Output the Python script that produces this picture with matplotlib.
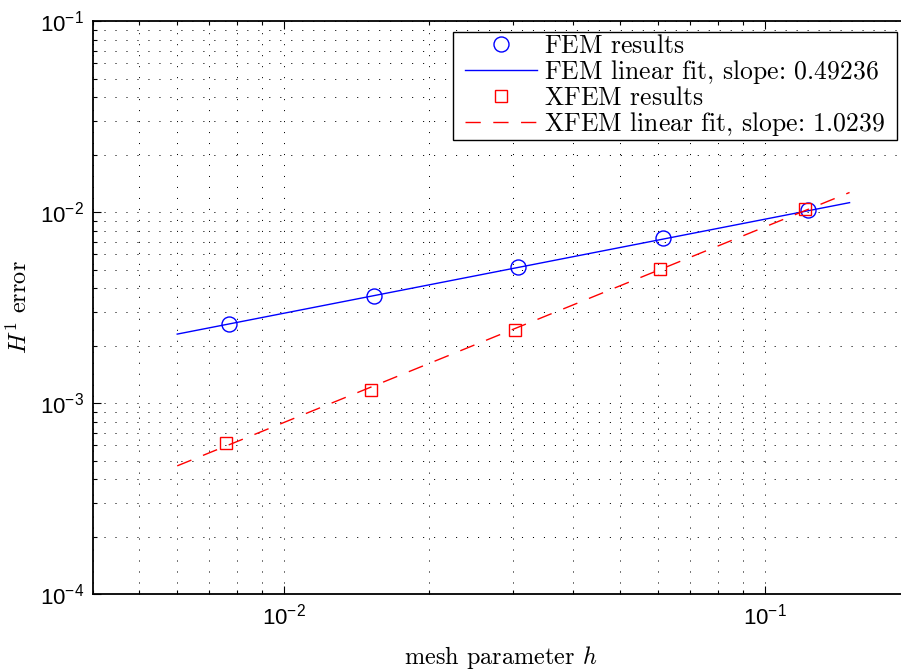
import numpy as np
import matplotlib
matplotlib.use("Agg")
import matplotlib.pyplot as plt
from matplotlib.ticker import LogLocator, NullFormatter
from matplotlib.font_manager import FontProperties
from matplotlib.path import Path

plt.rcParams['font.family'] = 'Liberation Sans'
plt.rcParams['mathtext.fontset'] = 'custom'
plt.rcParams['mathtext.rm'] = 'Liberation Sans'
plt.rcParams['mathtext.it'] = 'Liberation Sans:italic'
plt.rcParams['mathtext.bf'] = 'Liberation Sans:bold'

# mesh sizes and H1 errors
h_fem = [0.00769, 0.01537, 0.0307, 0.0614, 0.1228]
err_fem = [0.002585, 0.003651, 0.005183, 0.007269, 0.010195]
h_xfem = [0.00758, 0.01515, 0.0303, 0.0606, 0.1211]
err_xfem = [0.000614, 0.001164, 0.0024, 0.00506, 0.01032]

# linear fits in log-log: err = C * h^slope
slope_fem, C_fem = 0.49236, 0.0285
slope_xfem, C_xfem = 1.0239, 0.0883
h_fit = np.array([0.006, 0.15])

fig = plt.figure(figsize=(9.01, 6.70), dpi=100)
ax = fig.add_axes([0.1027, 0.1134, 0.9069, 0.8552])

ax.loglog(h_fem, err_fem, 'o', ms=10.8, mfc='none', mec='#0000ff', mew=1.0,
          label=r'$\text{FEM results}$')
ax.loglog(h_fit, C_fem * h_fit ** slope_fem, '-', color='#0000ff', lw=1.0,
          label=r'$\text{FEM linear fit, slope: %g}$' % slope_fem)
ax.loglog(h_xfem, err_xfem, 's', ms=8.6, mfc='none', mec='#ff0000', mew=1.0,
          label=r'$\text{XFEM results}$')
ax.loglog(h_fit, C_xfem * h_fit ** slope_xfem, '--', color='#ff0000', lw=1.0,
          dashes=(11, 9), label=r'$\text{XFEM linear fit, slope: %g}$' % slope_xfem)

ax.set_xlim(0.004, 0.2)
ax.set_ylim(1e-4, 1e-1)

ax.xaxis.set_minor_locator(LogLocator(base=10, subs=np.arange(2, 10)))
ax.yaxis.set_minor_locator(LogLocator(base=10, subs=np.arange(2, 10)))
ax.xaxis.set_minor_formatter(NullFormatter())
ax.yaxis.set_minor_formatter(NullFormatter())

ax.grid(True, which='both', color='black', lw=0.7, linestyle=(0, (1.1, 10.2)))
ax.tick_params(which='both', direction='in', top=True, right=True,
               labelsize=16, width=0.8)
ax.tick_params(which='major', length=6)
ax.tick_params(which='minor', length=3)
ax.tick_params(axis='x', pad=7)
ax.tick_params(axis='y', pad=6)
for s in ax.spines.values():
    s.set_linewidth(1.3)

ax.set_xlabel(r'mesh parameter $h$', fontsize=17.5, family='cmr10',
              math_fontfamily='cm', labelpad=10)
ax.set_ylabel(r'$H^1$ error', fontsize=17.5, family='cmr10',
              math_fontfamily='cm', labelpad=6)


# legend frame: wider on the sides than above and below
def wide_box(x0, y0, width, height, mutation_size):
    dx = 10
    return Path([(x0 - dx, y0), (x0 + width + dx, y0),
                 (x0 + width + dx, y0 + height), (x0 - dx, y0 + height),
                 (x0 - dx, y0)], closed=True)


leg = ax.legend(loc='upper right', bbox_to_anchor=(887 / 901, 1 - 32 / 670),
                bbox_transform=fig.transFigure, borderaxespad=0,
                prop=FontProperties(family='cmr10', size=18.5,
                                    math_fontfamily='cm'),
                fancybox=False, framealpha=1, edgecolor='black',
                handlelength=2.8, handletextpad=0.27, labelspacing=0.0,
                borderpad=0.08)
leg.get_frame().set_linewidth(1.0)
leg.get_frame().set_boxstyle(wide_box)

fig.savefig('out.png', dpi=100)
